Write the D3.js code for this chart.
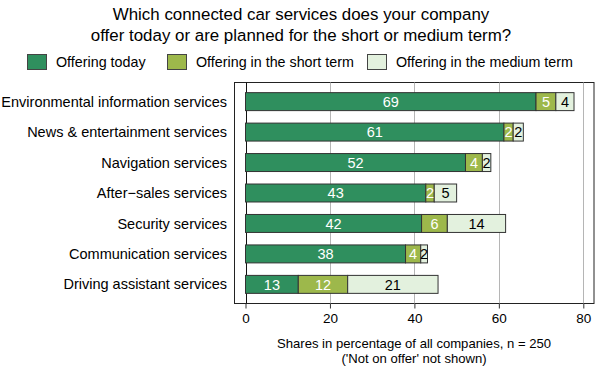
<!DOCTYPE html>
<html><head><meta charset="utf-8">
<script src="https://cdn.jsdelivr.net/npm/d3@7"></script>
<style>body{margin:0;background:#fff}svg{display:block;font-family:"Liberation Sans",Arial,sans-serif}</style>
</head><body><svg id="c" width="600" height="368"></svg>
<script>
const categories = ["Environmental information services","News & entertainment services","Navigation services","After\u2212sales services","Security services","Communication services","Driving assistant services"];
const seriesNames = ["Offering today","Offering in the short term","Offering in the medium term"];
const today = [68.8,61.2,52.1,42.7,41.7,37.9,12.5];
const shortTerm = [4.7,2.2,4.0,2.0,6.1,3.6,11.7];
const mediumTerm = [4.3,2.4,2.0,5.3,13.8,1.6,21.4];
const xTicks = [0,20,40,60,80];
const colors = ["#2f8f5e","#9db84b","#e3f1de"];
const labelColors = ["#fff","#fff","#000"];

const svg = d3.select("#c");
const frame = {l:234.5, r:594, t:82.5, b:303.5};
const x = d3.scaleLinear().domain([0,80]).range([245.5,583.3]);
const y = d3.scaleBand().domain(categories).range([frame.t,frame.b]).paddingInner(0.41).paddingOuter(0.333);

// title
svg.append("text").attr("x",301).attr("y",20).attr("text-anchor","middle").attr("font-size",16.9).text("Which connected car services does your company");
svg.append("text").attr("x",301).attr("y",41).attr("text-anchor","middle").attr("font-size",16.9).text("offer today or are planned for the short or medium term?");

// legend
const legX = [27,167,367];
seriesNames.forEach((n,i)=>{
  svg.append("rect").attr("x",legX[i]+0.5).attr("y",54.5).attr("width",19).attr("height",15).attr("fill",colors[i]).attr("stroke","#444");
  svg.append("text").attr("x",legX[i]+29).attr("y",67).attr("font-size",14.3).text(n);
});

// frame
svg.append("rect").attr("x",frame.l).attr("y",frame.t).attr("width",frame.r-frame.l).attr("height",frame.b-frame.t).attr("fill","none").attr("stroke","#222");

// grid
svg.append("g").selectAll("line").data(xTicks.filter(d=>d>0)).join("line")
  .attr("x1",d=>Math.round(x(d))+0.5).attr("x2",d=>Math.round(x(d))+0.5).attr("y1",frame.t).attr("y2",frame.b).attr("stroke","#b5b5b5");
svg.append("line").attr("x1",Math.round(x(0))+0.5).attr("x2",Math.round(x(0))+0.5).attr("y1",frame.t).attr("y2",frame.b).attr("stroke","#111");

// axis
const ax = svg.append("g").attr("transform",`translate(0,${frame.b})`).call(d3.axisBottom(x).tickValues(xTicks).tickSize(5).tickSizeOuter(0));
ax.select(".domain").remove();
ax.selectAll(".tick line").attr("stroke","#333");
ax.selectAll(".tick text").attr("font-size",13.5).attr("font-family","Liberation Sans, Arial, sans-serif").attr("fill","#000").attr("dy","0.85em");

svg.append("text").attr("x",414).attr("y",348).attr("text-anchor","middle").attr("font-size",13.1).text("Shares in percentage of all companies, n = 250");
svg.append("text").attr("x",414).attr("y",363).attr("text-anchor","middle").attr("font-size",13.1).text("('Not on offer' not shown)");

// category labels
svg.append("g").selectAll("text").data(categories).join("text")
  .attr("x",227).attr("y",d=>y(d)+y.bandwidth()/2).attr("dy","0.35em").attr("text-anchor","end").attr("font-size",14.5).text(d=>d);

// stacked bars
const rows = categories.map((c,i)=>({cat:c, v:[today[i],shortTerm[i],mediumTerm[i]]}));
const segs = [];
rows.forEach(r=>{let s=0; r.v.forEach((v,k)=>{segs.push({cat:r.cat,k,x0:s,x1:s+v,v}); s+=v;});});
svg.append("g").selectAll("rect").data(segs).join("rect")
  .attr("x",d=>x(d.x0)).attr("width",d=>x(d.x1)-x(d.x0))
  .attr("y",d=>y(d.cat)).attr("height",y.bandwidth())
  .attr("fill",d=>colors[d.k]).attr("stroke","#333").attr("stroke-width",1);
svg.append("g").selectAll("text").data(segs).join("text")
  .attr("x",d=>(x(d.x0)+x(d.x1))/2).attr("y",d=>y(d.cat)+y.bandwidth()/2).attr("dy","0.36em")
  .attr("text-anchor","middle").attr("font-size",14.5)
  .attr("fill",d=>labelColors[d.k]).text(d=>Math.round(d.v));
</script></body></html>
